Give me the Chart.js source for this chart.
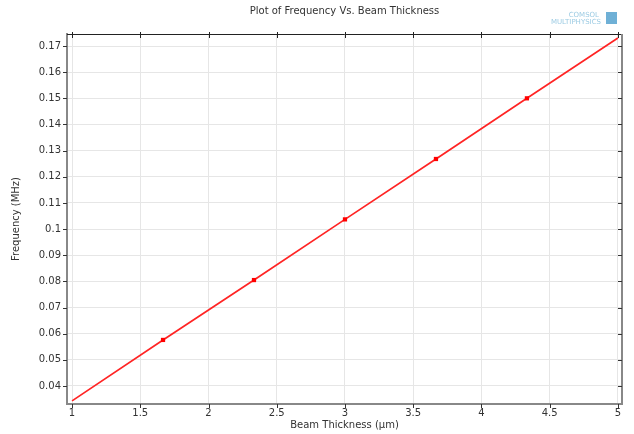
<!DOCTYPE html>
<html>
<head>
<meta charset="utf-8">
<script src="https://cdn.jsdelivr.net/npm/chart.js@4"></script>
<style>
  html, body { margin: 0; padding: 0; background: #fff; }
  #wrap { width: 634px; height: 434px; }
</style>
</head>
<body>
<div id="wrap"><canvas id="chart" width="634" height="434"></canvas></div>
<script>
// data
const thickness = [1, 1.6667, 2.3333, 3, 3.6667, 4.3333, 5];
const frequency = [0.0343, 0.0576, 0.0805, 0.1037, 0.1268, 0.1500, 0.1731];
const markerSizes = [0, 3, 3, 3, 3, 3, 0];
const xTicks = [1, 1.5, 2, 2.5, 3, 3.5, 4, 4.5, 5];
const yTicks = [0.04, 0.05, 0.06, 0.07, 0.08, 0.09, 0.1, 0.11, 0.12, 0.13, 0.14, 0.15, 0.16, 0.17];

const titleText = 'Plot of Frequency Vs. Beam Thickness';
const fontFamily = '"DejaVu Sans", sans-serif';

// draws the title over the plot area and the frame with its tick marks
const framePlugin = {
    id: 'frame',
    afterDraw(chart) {
        const ctx = chart.ctx;
        const a = chart.chartArea;
        const xs = chart.scales.x, ys = chart.scales.y;
        ctx.save();
        ctx.fillStyle = '#333';
        ctx.font = '10px ' + fontFamily;
        ctx.textAlign = 'center';
        ctx.textBaseline = 'middle';
        ctx.fillText(titleText, (a.left + a.right) / 2, 11);

        // logo text, top right
        ctx.fillStyle = '#9ccbe3';
        ctx.font = '7px ' + fontFamily;
        ctx.textAlign = 'right';
        ctx.fillText('COMSOL', 599, 15);
        ctx.fillText('MULTIPHYSICS', 601, 22);
        ctx.fillStyle = '#6fb0d6';
        ctx.fillRect(606, 12, 11, 12);

        // top border
        ctx.strokeStyle = '#222';
        ctx.lineWidth = 1;
        ctx.beginPath();
        ctx.moveTo(a.left, a.top + 0.5);
        ctx.lineTo(a.right, a.top + 0.5);
        xTicks.forEach(v => {
            const px = Math.round(xs.getPixelForValue(v)) + 0.5;
            ctx.moveTo(px, a.top - 2);
            ctx.lineTo(px, a.top + 4);
        });
        ctx.stroke();

        // right border
        ctx.strokeStyle = '#888';
        ctx.lineWidth = 2;
        ctx.beginPath();
        ctx.moveTo(a.right, a.top);
        ctx.lineTo(a.right, a.bottom);
        ctx.stroke();
        ctx.lineWidth = 1;
        ctx.strokeStyle = '#333';
        ctx.beginPath();
        yTicks.forEach(v => {
            const py = Math.round(ys.getPixelForValue(v)) + 0.5;
            ctx.moveTo(a.right - 4, py);
            ctx.lineTo(a.right, py);
        });
        ctx.stroke();

        // left and bottom ticks
        ctx.beginPath();
        yTicks.forEach(v => {
            const py = Math.round(ys.getPixelForValue(v)) + 0.5;
            ctx.moveTo(a.left - 4, py);
            ctx.lineTo(a.left, py);
        });
        xTicks.forEach(v => {
            const px = Math.round(xs.getPixelForValue(v)) + 0.5;
            ctx.moveTo(px, a.bottom);
            ctx.lineTo(px, a.bottom + 4);
        });
        ctx.stroke();
        ctx.restore();
    }
};

const ctx = document.getElementById('chart').getContext('2d');
const chart = new Chart(ctx, {
    type: 'line',
    data: {
        datasets: [{
            data: thickness.map((x, i) => ({ x: x, y: frequency[i] })),
            borderColor: '#ff2424',
            backgroundColor: '#ff0000',
            borderWidth: 1.7,
            pointStyle: 'rect',
            pointRadius: markerSizes,
            pointHoverRadius: markerSizes,
            pointBorderWidth: 0,
            tension: 0,
            fill: false
        }]
    },
    options: {
        responsive: false,
        animation: false,
        layout: { padding: { top: 34, right: 12, left: 10, bottom: 3 } },
        plugins: {
            legend: { display: false },
            tooltip: { enabled: false },
            title: { display: false }
        },
        scales: {
            x: {
                type: 'linear',
                min: 0.963,
                max: 5.03,
                afterBuildTicks: s => { s.ticks = xTicks.map(v => ({ value: v })); },
                afterFit: s => { s.height = 27; },
                grid: { color: '#e6e6e6', drawTicks: false },
                border: { color: '#888', width: 2 },
                ticks: {
                    color: '#333',
                    font: { family: fontFamily, size: 10 },
                    padding: 3,
                    maxRotation: 0,
                    callback: v => String(v)
                },
                title: {
                    display: true,
                    text: 'Beam Thickness (µm)',
                    color: '#333',
                    font: { family: fontFamily, size: 10 },
                    padding: { top: 0, bottom: 0 }
                }
            },
            y: {
                type: 'linear',
                min: 0.0331,
                max: 0.1746,
                afterBuildTicks: s => { s.ticks = yTicks.map(v => ({ value: v })); },
                afterFit: s => { s.width = 57; },
                grid: { color: '#e6e6e6', drawTicks: false },
                border: { color: '#888', width: 2 },
                ticks: {
                    color: '#333',
                    font: { family: fontFamily, size: 10 },
                    padding: 6,
                    callback: v => String(+v.toFixed(2))
                },
                title: {
                    display: true,
                    text: 'Frequency (MHz)',
                    color: '#333',
                    font: { family: fontFamily, size: 10 },
                    padding: { top: 0, bottom: 4 }
                }
            }
        }
    },
    plugins: [framePlugin]
});
</script>
</body>
</html>
